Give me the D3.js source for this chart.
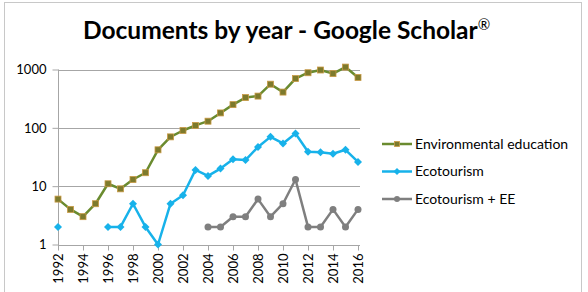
<!DOCTYPE html>
<html>
<head>
<meta charset="utf-8">
<script src="https://cdn.jsdelivr.net/npm/d3@7"></script>
<style>
  body { margin: 0; background: #fff; }
  svg { display: block; font-family: Lato, "Open Sans", sans-serif; }
</style>
</head>
<body>
<div id="chart"></div>
<script>
// years 1992..2016
var years = d3.range(1992, 2017);
var envEducation = [6, 4, 3, 5, 11, 9, 13, 17, 42, 70, 90, 110, 130, 180, 250, 330, 350, 560, 410, 700, 880, 980, 850, 1100, 730];
var ecotourism = [2, null, null, null, 2, 2, 5, 2, 1, 5, 7, 19, 15, 20, 29, 28, 47, 70, 54, 80, 39, 38, 36, 42, 26];
var ecoEE = [null, null, null, null, null, null, null, null, null, null, null, null, 2, 2, 3, 3, 6, 3, 5, 13, 2, 2, 4, 2, 4];
var yTicks = [1, 10, 100, 1000];
var seriesNames = ["Environmental education", "Ecotourism", "Ecotourism + EE"];

var width = 588, height = 292;
var svg = d3.select('#chart').append('svg')
    .attr('width', width)
    .attr('height', height);

// outer frame
svg.append('rect')
    .attr('x', 4.5).attr('y', 2.5)
    .attr('width', 577).attr('height', 300)
    .attr('fill', 'none')
    .attr('stroke', '#c8c8c8');

var title = svg.append('text')
    .attr('x', 83).attr('y', 39)
    .style('font-size', '24.5px')
    .style('font-weight', 'bold')
    .text('Documents by year - Google Scholar');
title.append('tspan')
    .attr('dy', '-9')
    .style('font-size', '15px')
    .style('font-weight', 'normal')
    .text('®');

var x = d3.scaleLinear().domain([1992, 2016]).range([58, 358]);
var y = d3.scaleLog().domain([1, 1000]).range([244.5, 69.5]);

// gridlines
svg.append('g').selectAll('line')
    .data(yTicks.slice(1))
    .enter().append('line')
    .attr('x1', 58).attr('x2', 360)
    .attr('y1', function(d) { return Math.round(y(d)) + 0.5 })
    .attr('y2', function(d) { return Math.round(y(d)) + 0.5 })
    .attr('stroke', '#a6a6a6');

var yAxis = svg.append('g')
    .attr('transform', 'translate(58.5,0)')
    .call(d3.axisLeft(y).tickValues(yTicks).tickFormat(d3.format('d')).tickSize(6).tickPadding(6));

var xAxis = svg.append('g')
    .attr('transform', 'translate(0,' + (Math.round(y(1)) + 0.5) + ')')
    .call(d3.axisBottom(x).tickValues(years.filter(function(d) { return d % 2 === 0 }))
        .tickFormat(d3.format('d')).tickSize(5));

svg.selectAll('.domain').attr('stroke', '#a6a6a6');
svg.selectAll('.tick line').attr('stroke', '#a6a6a6');
svg.selectAll('.tick text').attr('fill', '#000').style('font-size', '13px').style('font-family', 'Lato, sans-serif');
yAxis.select('.domain').attr('d', 'M0,' + (y(1000)) + 'V' + (y(1) + 0.5));
xAxis.select('.domain').attr('d', 'M58,0H360');

xAxis.selectAll('.tick text')
    .attr('transform', 'rotate(-90)')
    .attr('text-anchor', 'end')
    .attr('x', -8).attr('y', 0)
    .attr('dy', '0.35em');

var series = [
    { name: seriesNames[0], values: envEducation, color: '#6a8b2f', marker: 'square' },
    { name: seriesNames[1], values: ecotourism, color: '#17b2ea', marker: 'diamond' },
    { name: seriesNames[2], values: ecoEE, color: '#7f7f7f', marker: 'circle' }
];

var line = d3.line()
    .defined(function(d) { return d.v != null })
    .x(function(d) { return x(d.year) })
    .y(function(d) { return y(d.v) });

function drawMarker(g, s, px, py, size) {
    if (s.marker === 'square') {
        g.append('rect')
            .attr('x', px - size).attr('y', py - size)
            .attr('width', size * 2).attr('height', size * 2)
            .attr('fill', '#7d7a2c')
            .attr('stroke', '#c99a45').attr('stroke-width', 0.8);
    } else if (s.marker === 'diamond') {
        g.append('path')
            .attr('d', 'M' + px + ',' + (py - size - 1) + 'L' + (px + size + 1) + ',' + py + 'L' + px + ',' + (py + size + 1) + 'L' + (px - size - 1) + ',' + py + 'Z')
            .attr('fill', s.color);
    } else {
        g.append('circle')
            .attr('cx', px).attr('cy', py).attr('r', size + 0.5)
            .attr('fill', s.color);
    }
}

series.forEach(function(s) {
    var pts = years.map(function(yr, i) { return { year: yr, v: s.values[i] } });
    svg.append('path')
        .datum(pts)
        .attr('fill', 'none')
        .attr('stroke', s.color)
        .attr('stroke-width', 2.5)
        .attr('stroke-linejoin', 'round')
        .attr('d', line);
    var mg = svg.append('g');
    pts.filter(function(d) { return d.v != null }).forEach(function(d) {
        drawMarker(mg, s, x(d.year), y(d.v), 3);
    });
});

// legend
var legend = svg.append('g');
series.forEach(function(s, i) {
    var ly = 144 + i * 27.5;
    legend.append('line')
        .attr('x1', 382).attr('x2', 412)
        .attr('y1', ly).attr('y2', ly)
        .attr('stroke', s.color).attr('stroke-width', 2.5);
    drawMarker(legend, s, 397, ly, 2.5);
    legend.append('text')
        .attr('x', 415).attr('y', ly)
        .attr('dy', '0.35em')
        .style('font-size', '14px')
        .text(s.name);
});
</script>
</body>
</html>
